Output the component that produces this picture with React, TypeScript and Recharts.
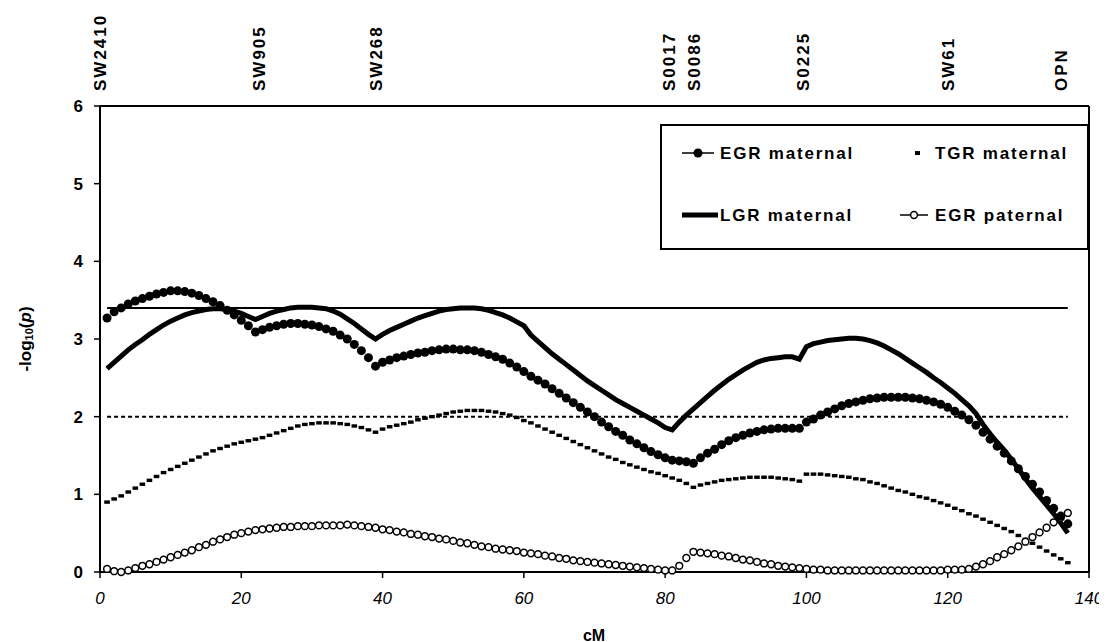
import { LineChart, Line, XAxis, YAxis, ReferenceLine, Label } from 'recharts';

// -log10(p) per cM position (1..137)
const egrMaternal = [
  3.27, 3.35, 3.40, 3.45, 3.49, 3.52, 3.55, 3.58, 3.60, 3.62,
  3.62, 3.61, 3.59, 3.56, 3.52, 3.48, 3.43, 3.37, 3.31, 3.24,
  3.17, 3.09, 3.12, 3.15, 3.17, 3.19, 3.20, 3.20, 3.19, 3.18,
  3.16, 3.13, 3.10, 3.05, 3.00, 2.93, 2.85, 2.76, 2.65, 2.70,
  2.73, 2.76, 2.78, 2.80, 2.82, 2.83, 2.85, 2.86, 2.87, 2.87,
  2.86, 2.86, 2.85, 2.83, 2.80, 2.77, 2.74, 2.69, 2.64, 2.58,
  2.52, 2.47, 2.42, 2.36, 2.30, 2.24, 2.18, 2.12, 2.06, 2.00,
  1.93, 1.87, 1.81, 1.76, 1.70, 1.65, 1.60, 1.55, 1.51, 1.47,
  1.44, 1.43, 1.42, 1.40, 1.47, 1.53, 1.58, 1.64, 1.69, 1.73,
  1.76, 1.79, 1.81, 1.83, 1.84, 1.85, 1.85, 1.85, 1.85, 1.93,
  1.97, 2.02, 2.06, 2.10, 2.14, 2.17, 2.19, 2.21, 2.23, 2.24,
  2.25, 2.25, 2.25, 2.25, 2.24, 2.23, 2.21, 2.19, 2.16, 2.12,
  2.07, 2.02, 1.96, 1.89, 1.80, 1.71, 1.62, 1.53, 1.43, 1.33,
  1.23, 1.13, 1.03, 0.92, 0.82, 0.72, 0.62,
];

const lgrMaternal = [
  2.62, 2.70, 2.78, 2.86, 2.93, 2.99, 3.06, 3.12, 3.18, 3.23,
  3.27, 3.31, 3.34, 3.36, 3.38, 3.39, 3.39, 3.38, 3.36, 3.33,
  3.29, 3.25, 3.29, 3.33, 3.36, 3.38, 3.40, 3.41, 3.41, 3.41,
  3.40, 3.39, 3.36, 3.32, 3.26, 3.20, 3.13, 3.06, 3.00, 3.06,
  3.11, 3.15, 3.19, 3.23, 3.27, 3.30, 3.33, 3.36, 3.38, 3.39,
  3.40, 3.40, 3.40, 3.39, 3.37, 3.34, 3.31, 3.27, 3.22, 3.17,
  3.05, 2.97, 2.89, 2.81, 2.74, 2.67, 2.60, 2.53, 2.46, 2.40,
  2.34, 2.28, 2.22, 2.17, 2.12, 2.07, 2.02, 1.97, 1.92, 1.86,
  1.83, 1.93, 2.02, 2.10, 2.18, 2.26, 2.34, 2.41, 2.48, 2.54,
  2.60, 2.65, 2.70, 2.73, 2.75, 2.76, 2.77, 2.77, 2.74, 2.90,
  2.94, 2.96, 2.98, 2.99, 3.00, 3.01, 3.01, 3.00, 2.98, 2.95,
  2.91, 2.86, 2.81, 2.75, 2.69, 2.63, 2.57, 2.50, 2.44, 2.37,
  2.30, 2.22, 2.14, 2.04, 1.90, 1.78, 1.67, 1.57, 1.45, 1.33,
  1.20, 1.08, 0.97, 0.86, 0.75, 0.63, 0.50,
];

const tgrMaternal = [
  0.90, 0.94, 0.98, 1.03, 1.08, 1.13, 1.18, 1.23, 1.28, 1.32,
  1.36, 1.40, 1.44, 1.48, 1.52, 1.56, 1.59, 1.62, 1.65, 1.67,
  1.69, 1.71, 1.73, 1.76, 1.79, 1.82, 1.85, 1.88, 1.90, 1.91,
  1.92, 1.92, 1.92, 1.91, 1.90, 1.88, 1.86, 1.83, 1.80, 1.84,
  1.87, 1.89, 1.91, 1.93, 1.96, 1.98, 2.00, 2.02, 2.04, 2.06,
  2.07, 2.08, 2.08, 2.08, 2.07, 2.06, 2.04, 2.02, 1.99, 1.95,
  1.92, 1.88, 1.84, 1.80, 1.76, 1.72, 1.68, 1.64, 1.60, 1.56,
  1.52, 1.48, 1.45, 1.41, 1.38, 1.35, 1.32, 1.29, 1.27, 1.24,
  1.21, 1.18, 1.14, 1.09, 1.12, 1.14, 1.16, 1.18, 1.19, 1.20,
  1.21, 1.22, 1.22, 1.22, 1.22, 1.21, 1.20, 1.19, 1.17, 1.26,
  1.26, 1.26, 1.25, 1.24, 1.23, 1.22, 1.20, 1.19, 1.16, 1.14,
  1.11, 1.08, 1.05, 1.03, 1.00, 0.97, 0.95, 0.92, 0.89, 0.86,
  0.82, 0.79, 0.75, 0.72, 0.68, 0.64, 0.60, 0.56, 0.52, 0.47,
  0.42, 0.37, 0.32, 0.27, 0.22, 0.17, 0.12,
];

const egrPaternal = [
  0.04, 0.01, 0.00, 0.02, 0.05, 0.08, 0.10, 0.13, 0.16, 0.19,
  0.22, 0.25, 0.28, 0.32, 0.35, 0.39, 0.42, 0.45, 0.48, 0.50,
  0.52, 0.54, 0.55, 0.56, 0.57, 0.58, 0.58, 0.59, 0.59, 0.59,
  0.60, 0.60, 0.60, 0.60, 0.61, 0.60, 0.59, 0.58, 0.57, 0.55,
  0.54, 0.52, 0.51, 0.49, 0.48, 0.46, 0.45, 0.43, 0.42, 0.40,
  0.38, 0.37, 0.35, 0.33, 0.32, 0.30, 0.29, 0.28, 0.27, 0.25,
  0.24, 0.23, 0.21, 0.20, 0.18, 0.17, 0.15, 0.14, 0.13, 0.12,
  0.11, 0.10, 0.09, 0.08, 0.07, 0.06, 0.05, 0.04, 0.03, 0.02,
  0.02, 0.08, 0.18, 0.26, 0.25, 0.24, 0.23, 0.21, 0.20, 0.18,
  0.16, 0.15, 0.13, 0.11, 0.10, 0.08, 0.07, 0.06, 0.05, 0.04,
  0.03, 0.03, 0.02, 0.02, 0.02, 0.02, 0.02, 0.02, 0.02, 0.02,
  0.02, 0.02, 0.02, 0.02, 0.02, 0.02, 0.02, 0.02, 0.02, 0.03,
  0.03, 0.03, 0.04, 0.07, 0.10, 0.14, 0.19, 0.23, 0.28, 0.33,
  0.39, 0.45, 0.51, 0.57, 0.64, 0.70, 0.76,
];

// markers along the top
const markerNames = ['SW2410', 'SW905', 'SW268', 'S0017', 'S0086', 'S0225', 'SW61', 'OPN'];
const markerPos = [0, 22.5, 39, 80.5, 84, 99.5, 120, 136];

const xTicks = [0, 20, 40, 60, 80, 100, 120, 140];
const yTicks = [0, 1, 2, 3, 4, 5, 6];

const upperThreshold = 3.4;
const lowerThreshold = 2.0;
const thresholdStart = 1;
const thresholdEnd = 137;

const FONT = '"Liberation Sans", Arial, Helvetica, sans-serif';

const data = egrMaternal.map((v, i) => ({
  cm: i + 1,
  egrM: v,
  lgrM: lgrMaternal[i],
  tgrM: tgrMaternal[i],
  egrP: egrPaternal[i],
}));

const MarkerTick = (props: any) => {
  const { x, index } = props;
  const y = 83;
  return (
    <text
      x={x}
      y={y}
      transform={`rotate(-90, ${x}, ${y})`}
      textAnchor="start"
      dy="0.36em"
      fontFamily={FONT}
      fontSize={17}
      fontWeight="bold"
      letterSpacing={2}
      fill="#000"
    >
      {markerNames[index]}
    </text>
  );
};

const filledDot = (props: any) => (
  <circle key={`em-${props.index}`} cx={props.cx} cy={props.cy} r={4.5} fill="#000" />
);

const openDot = (props: any) => (
  <circle key={`ep-${props.index}`} cx={props.cx} cy={props.cy} r={3.4} fill="#fff" stroke="#000" strokeWidth={1.5} />
);

const squareDot = (props: any) => (
  <rect key={`tm-${props.index}`} x={props.cx - 2.8} y={props.cy - 1.7} width={5.6} height={3.4} fill="#000" />
);

function ChartLegend() {
  const t = { fontFamily: FONT, fontSize: 17, fontWeight: 'bold' as const, letterSpacing: 1.8, fill: '#000' };
  return (
    <svg width={429} height={126} style={{ position: 'absolute', left: 652, top: 116 }}>
      <rect x={1} y={1} width={427} height={124} fill="#fff" stroke="#000" strokeWidth={2} />
      <line x1={22} x2={54} y1={29} y2={29} stroke="#000" strokeWidth={1.5} />
      <circle cx={38} cy={29} r={4.5} fill="#000" />
      <text x={60} y={29} dy="0.36em" {...t}>EGR maternal</text>
      <rect x={255} y={27} width={5} height={4} fill="#000" />
      <text x={275} y={29} dy="0.36em" {...t}>TGR maternal</text>
      <line x1={22} x2={58} y1={91} y2={91} stroke="#000" strokeWidth={5} />
      <text x={60} y={91} dy="0.36em" {...t}>LGR maternal</text>
      <line x1={240} x2={268} y1={91} y2={91} stroke="#000" strokeWidth={1.5} />
      <circle cx={254} cy={91} r={3.4} fill="#fff" stroke="#000" strokeWidth={1.5} />
      <text x={275} y={91} dy="0.36em" {...t}>EGR paternal</text>
    </svg>
  );
}

export default function App() {
  return (
    <div style={{ position: 'relative', width: 1099, height: 634, fontFamily: FONT }}>
      <LineChart width={1099} height={634} data={data} margin={{ top: 8, right: 18, left: 32, bottom: 10 }}>
        <XAxis
          xAxisId="top"
          orientation="top"
          type="number"
          dataKey="cm"
          domain={[0, 140]}
          ticks={markerPos}
          interval={0}
          height={90}
          axisLine={{ stroke: '#000', strokeWidth: 2 }}
          tickLine={false}
          tick={<MarkerTick />}
        />
        <XAxis
          xAxisId="cm"
          type="number"
          dataKey="cm"
          domain={[0, 140]}
          ticks={xTicks}
          interval={0}
          height={60}
          axisLine={{ stroke: '#000', strokeWidth: 2 }}
          tickLine={{ stroke: '#000', strokeWidth: 1.5 }}
          tickSize={6}
          tickMargin={14}
          tick={{ fill: '#000', fontSize: 17, fontStyle: 'italic', fontFamily: FONT }}
        >
          <Label
            content={() => (
              <text x={586} y={627} textAnchor="middle" dominantBaseline="central" fontFamily={FONT} fontSize={16} fontWeight="bold" fill="#000">
                cM
              </text>
            )}
          />
        </XAxis>
        <YAxis
          yAxisId="v"
          type="number"
          domain={[0, 6]}
          ticks={yTicks}
          interval={0}
          width={60}
          axisLine={{ stroke: '#000', strokeWidth: 2 }}
          tickLine={{ stroke: '#000', strokeWidth: 1.5 }}
          tickSize={6}
          tickMargin={11}
          tick={{ fill: '#000', fontSize: 17, fontWeight: 'bold', fontFamily: FONT }}
        >
          <Label
            content={() => (
              <text
                x={17}
                y={331}
                transform="rotate(-90, 17, 331)"
                textAnchor="middle"
                dominantBaseline="central"
                fontFamily={FONT}
                fontSize={17}
                fontWeight="bold"
                fill="#000"
              >
                -log
                <tspan fontSize={11} dy={4}>10</tspan>
                <tspan dy={-4}>(</tspan>
                <tspan fontStyle="italic">p</tspan>
                <tspan>)</tspan>
              </text>
            )}
          />
        </YAxis>
        <ReferenceLine xAxisId="cm" yAxisId="v" x={140} stroke="#000" strokeWidth={2} />
        <ReferenceLine
          xAxisId="cm"
          yAxisId="v"
          segment={[{ x: thresholdStart, y: upperThreshold }, { x: thresholdEnd, y: upperThreshold }]}
          stroke="#000"
          strokeWidth={2}
        />
        <ReferenceLine
          xAxisId="cm"
          yAxisId="v"
          segment={[{ x: thresholdStart, y: lowerThreshold }, { x: thresholdEnd, y: lowerThreshold }]}
          stroke="#000"
          strokeWidth={2}
          strokeDasharray="4 3"
        />
        <Line xAxisId="cm" yAxisId="v" dataKey="tgrM" stroke="none" dot={squareDot} activeDot={false} isAnimationActive={false} />
        <Line xAxisId="cm" yAxisId="v" dataKey="egrP" stroke="none" dot={openDot} activeDot={false} isAnimationActive={false} />
        <Line xAxisId="cm" yAxisId="v" dataKey="lgrM" stroke="#000" strokeWidth={5} dot={false} activeDot={false} isAnimationActive={false} />
        <Line xAxisId="cm" yAxisId="v" dataKey="egrM" stroke="none" dot={filledDot} activeDot={false} isAnimationActive={false} />
      </LineChart>
      <ChartLegend />
    </div>
  );
}
